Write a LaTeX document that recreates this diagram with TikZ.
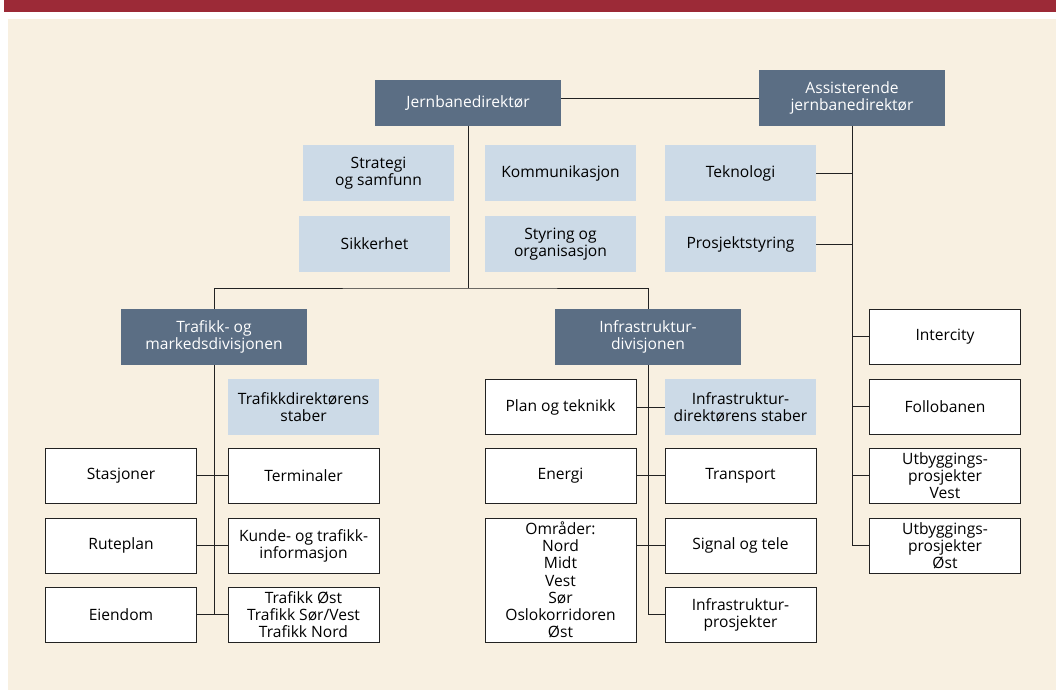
\documentclass[tikz,border=0pt]{standalone}
\usepackage{fontspec}
\setmainfont{Open Sans}
\usepackage{tikz}
\usetikzlibrary{positioning}

\definecolor{headred}{HTML}{9C2A37}
\definecolor{cream}{HTML}{F8F0E1}
\definecolor{darkbox}{HTML}{5B6E84}
\definecolor{lightbox}{HTML}{CCDAE7}
\definecolor{linegray}{HTML}{222222}

\tikzset{
  base/.style={rectangle, inner sep=0pt, align=center, font=\fontsize{15.6}{17.2}\selectfont},
  chief/.style={base, fill=darkbox, text=white, minimum width=186pt, minimum height=56pt},
  staff/.style={base, fill=lightbox, text=black, minimum width=151pt, minimum height=56pt},
  unit/.style={base, fill=white, draw=linegray, line width=1pt, text=black, minimum width=151pt, minimum height=55pt},
  link/.style={draw=linegray, line width=1pt}
}

\begin{document}
\begin{tikzpicture}[x=1pt,y=-1pt]
\useasboundingbox (0,0) rectangle (1056,691);
\fill [white] (0,0) rectangle (1056,691);
\fill [headred] (4,0) rectangle (1056,12);
\fill [cream] (8,19) rectangle (1056,690);

% top level
\node [chief, minimum height=46pt] (jbd) at (468,103) {Jernbanedirektør};
\node [chief] (ajd) at (852,98) {Assisterende\\jernbanedirektør};

% staffs
\node [staff] (str) at (378.5,173) {Strategi\\og samfunn};
\node [staff] (sik) at (374.5,244) {Sikkerhet};
\node [staff] (kom) at (560.5,173) {Kommunikasjon};
\node [staff] (sty) at (560.5,244) {Styring og\\organisasjon};
\node [staff] (tek) at (740.5,173) {Teknologi};
\node [staff] (pro) at (740.5,244) {Prosjektstyring};

% divisions
\node [chief] (tmd) at (214,337) {Trafikk- og\\markedsdivisjonen};
\node [chief] (ifd) at (648,337) {Infrastruktur-\\divisjonen};

% traffic division
\node [staff] (tds) at (303.5,407) {Trafikkdirektørens\\staber};
\node [unit] (sta) at (121,475.5) {Stasjoner};
\node [unit] (ter) at (303.5,475.5) {Terminaler};
\node [unit] (rut) at (121,545.5) {Ruteplan};
\node [unit] (kun) at (303.5,545.5) {Kunde- og trafikk-\\informasjon};
\node [unit] (eie) at (121,614.5) {Eiendom};
\node [unit] (tra) at (303.5,614.5) {Trafikk Øst\\Trafikk Sør/Vest\\Trafikk Nord};

% infrastructure division
\node [unit] (pla) at (560.5,407) {Plan og teknikk};
\node [staff] (ids) at (740.5,407) {Infrastruktur-\\direktørens staber};
\node [unit] (ene) at (560.5,475.5) {Energi};
\node [unit] (tsp) at (740.5,475.5) {Transport};
\node [unit, minimum height=124pt] (omr) at (560.5,580) {Områder:\\Nord\\Midt\\Vest\\Sør\\Oslokorridoren\\Øst};
\node [unit] (sig) at (740.5,545.5) {Signal og tele};
\node [unit] (ipr) at (740.5,614.5) {Infrastruktur-\\prosjekter};

% projects
\node [unit] (ic) at (945,336.5) {Intercity};
\node [unit] (fol) at (945,406.5) {Follobanen};
\node [unit] (ubv) at (945,475.5) {Utbyggings-\\prosjekter\\Vest};
\node [unit] (ubo) at (945,545.5) {Utbyggings-\\prosjekter\\Øst};

\coordinate (split) at (468,288);

% connectors
\draw [link] (jbd.south) -- (split);
\draw [link] (tmd.north) |- (split) -| (ifd.north);
\draw [link] (ajd.west) -- (ajd.west -| jbd.east);
\draw [link] (ajd.south) |- (ubo.west);
\draw [link] (tek.east) -- (tek.east -| ajd.south);
\draw [link] (pro.east) -- (pro.east -| ajd.south);
\draw [link] (ic.west) -- (ic.west -| ajd.south);
\draw [link] (fol.west) -- (fol.west -| ajd.south);
\draw [link] (ubv.west) -- (ubv.west -| ajd.south);

\draw [link] (tmd.south) -- (tmd.south |- eie.east);
\draw [link] (sta.east) -- (ter.west);
\draw [link] (rut.east) -- (kun.west);
\draw [link] (eie.east) -- (tra.west);

\draw [link] (ifd.south) |- (ipr.west);
\draw [link] (pla.east) -- (ids.west);
\draw [link] (ene.east) -- (tsp.west);
\draw [link] (sig.west) -- (sig.west -| omr.east);
\end{tikzpicture}
\end{document}
